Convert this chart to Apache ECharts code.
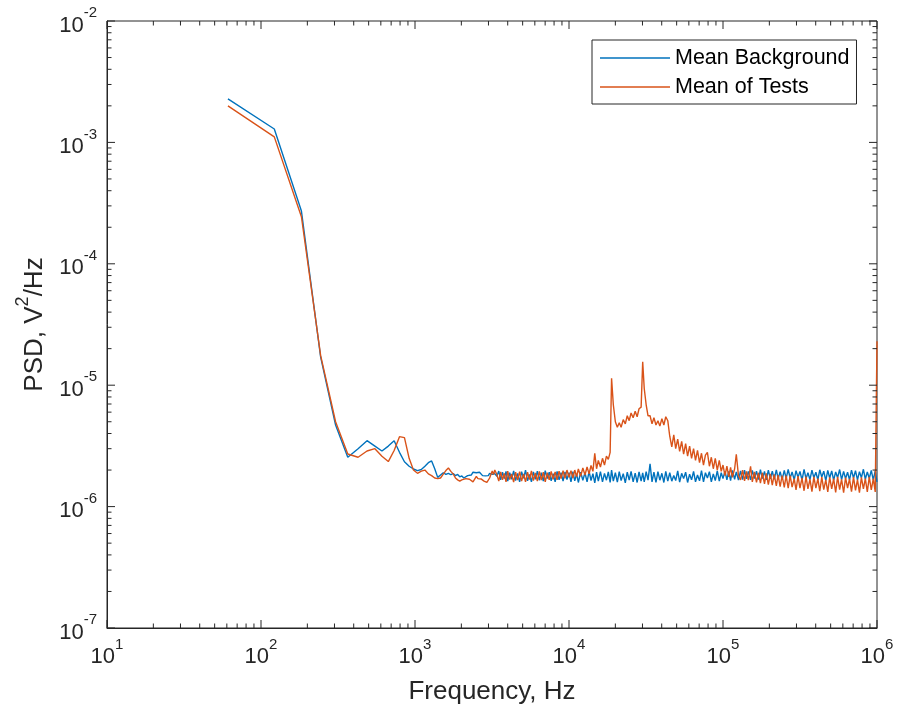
<!DOCTYPE html>
<html>
<head>
<meta charset="utf-8">
<title>PSD</title>
<script src="https://cdn.jsdelivr.net/npm/echarts@6/dist/echarts.min.js"></script>
<style>
  html, body { margin: 0; padding: 0; background: #fff; }
  #chart { width: 900px; height: 715px; }
</style>
</head>
<body>
<div id="chart"></div>
<script>
// frequency grid in Hz, shared by both curves
const freqHz = [
  61, 122, 183, 244, 305, 366, 427, 488, 549, 610, 671, 732, 793, 854, 916, 977, 1038, 1099,
  1160, 1221, 1282, 1343, 1404, 1465, 1526, 1587, 1648, 1709, 1770, 1831, 1892, 1953, 2014,
  2075, 2136, 2197, 2258, 2319, 2380, 2441, 2502, 2563, 2624, 2685, 2746, 2807, 2868, 2930,
  2991, 3052, 3113, 3174, 3235, 3296,
  3400, 3500, 3600, 3700, 3800, 3900, 4000, 4120, 4240, 4370, 4500, 4640, 4780, 4920, 5070,
  5220, 5380, 5540, 5700, 5870, 6050, 6230, 6420, 6610, 6810, 7010, 7220, 7440, 7660, 7890,
  8130, 8370, 8620, 8880, 9150, 9420, 9700,
  10000, 10300, 10600, 10900, 11200, 11500, 11900, 12300, 12700, 13100, 13500, 13900, 14300,
  14700, 15100, 15500, 16000, 16500, 17000, 17500, 18000, 18500, 18900, 19400, 20000, 20600,
  21200, 21800, 22500, 23200, 23900, 24600, 25300, 26100, 26900, 27700, 28500, 29400, 30100,
  30800, 31700, 32600, 33600, 34600, 35600, 36700, 37800, 38900, 40100, 41300, 42500, 43800,
  45100, 46500, 47900, 49300, 50800, 52300, 53900, 55500, 57200, 58900, 60700, 62500, 64400,
  66300, 68300, 70400, 72500, 74700, 76900, 79200, 81600, 84000, 86500, 89100, 91800, 94600, 97400,
  100000, 103000, 106000, 109000, 112000, 115000, 119000, 122000, 126000, 130000, 134000,
  138000, 142000, 146000, 151000, 155000, 160000, 165000, 170000, 175000, 180000, 186000,
  191000, 197000, 203000, 209000, 215000, 222000, 228000, 235000, 242000, 250000, 257000,
  265000, 273000, 281000, 290000, 298000, 307000, 316000, 326000, 336000, 346000, 356000,
  367000, 378000, 389000, 401000, 413000, 425000, 438000, 451000, 465000, 479000, 493000,
  508000, 523000, 539000, 555000, 572000, 589000, 607000, 625000, 644000, 663000, 683000,
  704000, 725000, 747000, 769000, 792000, 816000, 840000, 865000, 891000, 918000, 946000,
  974000, 1000000
];

// PSD in units of 1e-6 V^2/Hz
const meanBackground = [
  2280, 1290, 272, 17, 4.7, 2.55, 3.0, 3.49, 3.15, 2.87, 3.15, 3.49, 2.8, 2.34, 2.15, 2.04, 1.98, 2.02,
  2.15, 2.3, 2.38, 2.05, 1.74, 1.82, 1.9, 1.84, 1.88, 1.83, 1.87, 1.8, 1.84, 1.76, 1.79,
  1.72, 1.75, 1.8, 1.86, 1.82, 1.92, 1.85, 1.9, 1.84, 1.92, 1.86, 1.8, 1.75, 1.79, 1.74,
  1.8, 1.88, 1.95, 1.84, 1.78, 1.87,
  1.78, 1.96, 1.66, 1.92, 1.7, 1.95, 1.62, 1.9, 1.68, 1.97, 1.64, 1.88, 1.6, 1.94, 1.71,
  2.0, 1.63, 1.84, 1.6, 1.93, 1.68, 1.96, 1.65, 1.9, 1.62, 1.98, 1.7, 1.92, 1.63, 1.87,
  1.6, 1.95, 1.66, 1.9, 1.62, 1.93, 1.67,
  1.9, 1.6, 1.94, 1.63, 1.86, 1.58, 1.92, 1.65, 1.9, 1.6, 1.95, 1.64, 1.87,
  1.57, 1.92, 1.62, 1.94, 1.6, 1.88, 1.65, 1.93, 1.58, 2.0, 1.62, 1.9, 1.59,
  1.94, 1.64, 1.87, 1.57, 1.92, 1.65, 1.95, 1.6, 1.89, 1.58, 1.93, 1.62, 1.9,
  1.6, 1.94, 1.65, 2.25, 1.6, 1.92, 1.58, 1.94, 1.65, 1.88, 1.58, 1.95, 1.62,
  1.9, 1.62, 1.8, 1.64, 1.97, 1.59, 1.88, 1.7, 1.92, 1.58, 1.85, 1.66, 1.95, 1.6,
  1.82, 1.63, 1.98, 1.6, 1.9, 1.72, 1.94, 1.6, 1.86, 1.64, 1.97, 1.62, 1.9,
  1.7, 1.96, 1.66, 1.95, 1.64, 1.99, 1.68, 1.93, 1.65, 1.97, 1.67,
  2.0, 1.69, 1.95, 1.66, 1.99, 1.7, 1.96, 1.67, 2.02, 1.7, 1.95,
  1.66, 2.0, 1.69, 1.96, 1.68, 2.01, 1.7, 1.94, 1.67, 1.99, 1.71,
  2.02, 1.72, 1.93, 1.66, 1.98, 1.74, 1.95, 1.65, 2.03, 1.7, 1.9,
  1.67, 2.0, 1.73, 1.92, 1.66, 2.01, 1.75, 1.96, 1.64, 1.99, 1.72,
  1.97, 1.65, 1.93, 1.73, 2.02, 1.67, 1.95, 1.7, 1.92, 1.66, 2.0,
  1.72, 1.98, 1.66, 1.94, 1.73, 2.03, 1.68, 1.93, 1.71, 1.99, 1.66,
  1.97, 1.6
];

const meanOfTests = [
  2000, 1110, 244, 17.5, 5.0, 2.71, 2.55, 2.87, 3.0, 2.6, 2.35, 2.9, 3.77, 3.7, 2.5, 2.0, 1.88, 1.96,
  2.0, 1.86, 1.8, 1.72, 1.7, 1.72, 1.85, 1.98, 2.08, 1.95, 1.86, 1.72, 1.66, 1.62, 1.66,
  1.63, 1.7, 1.66, 1.68, 1.64, 1.6, 1.64, 1.77, 1.7, 1.76, 1.69, 1.74, 1.62, 1.66, 1.58,
  1.64, 1.72, 1.85, 1.96, 1.84, 2.0,
  1.84, 1.62, 1.93, 1.66, 1.88, 1.6, 1.96, 1.67, 1.86, 1.59, 1.92, 1.65, 1.94, 1.62, 1.86,
  1.6, 1.92, 1.67, 1.97, 1.64, 1.89, 1.62, 1.95, 1.65, 1.92, 1.6, 1.9, 1.66, 1.95, 1.68,
  1.93, 1.66, 1.96, 1.7, 1.98, 1.71, 2.0,
  1.74, 1.98, 1.72, 2.0, 1.76, 2.04, 1.78, 2.08, 1.82, 2.12, 1.86, 2.18, 1.95,
  2.75, 2.05, 2.4, 2.12, 2.5, 2.2, 2.6, 2.45, 2.8, 11.4, 6.9, 5.0, 4.5,
  4.9, 4.5, 5.2, 4.8, 5.6, 5.1, 5.9, 5.4, 6.1, 5.5, 6.4, 6.6, 15.6,
  9.4, 6.9, 5.6, 5.6, 4.8, 5.4, 4.7, 5.1, 4.6, 5.3, 4.7, 5.5, 5.1,
  3.8, 3.1, 3.9, 3.0, 3.6, 2.85, 3.45, 2.7, 3.3, 2.6, 3.15, 2.5, 3.0, 2.4,
  2.9, 2.3, 2.75, 2.2, 2.65, 2.8, 2.15, 2.55, 2.05, 2.5, 2.0, 2.4, 1.95,
  2.2, 1.8, 2.15, 1.76, 2.1, 1.74, 2.05, 2.7, 1.8, 1.66, 2.0,
  1.63, 1.95, 1.65, 2.15, 1.6, 1.93, 1.58, 1.9, 1.56, 1.9, 1.54,
  1.88, 1.52, 1.86, 1.5, 1.84, 1.48, 1.82, 1.46, 1.8, 1.44, 1.8,
  1.42, 1.8, 1.45, 1.7, 1.37, 1.78, 1.42, 1.72, 1.35, 1.77, 1.4,
  1.68, 1.33, 1.76, 1.42, 1.7, 1.34, 1.75, 1.38, 1.66, 1.32, 1.74,
  1.4, 1.7, 1.31, 1.76, 1.38, 1.68, 1.3, 1.73, 1.42, 1.69, 1.33,
  1.75, 1.36, 1.67, 1.3, 1.74, 1.4, 1.7, 1.32, 1.76, 1.37, 1.7,
  1.32, 23
];

const seriesNames = ['Mean Background', 'Mean of Tests'];
const seriesColors = ['#0072BD', '#D95319'];
const xDecades = [10, 100, 1000, 10000, 100000, 1000000];
const yDecades = [1e-7, 1e-6, 1e-5, 1e-4, 1e-3, 1e-2];
const minorSteps = [2, 3, 4, 5, 6, 7, 8, 9];

const FONT = "'Liberation Sans', Arial, Helvetica, sans-serif";
const AX = '#262626';
const X_MIN = 10, X_MAX = 1e6, Y_MIN = 1e-7, Y_MAX = 1e-2;
const MAJOR_LEN = 8, MINOR_LEN = 4.5;

function toPairs(vals) {
  return freqHz.map((f, i) => [f, vals[i] * 1e-6]);
}

function tickList(decades) {
  const out = [];
  decades.forEach((d, i) => {
    out.push([d, MAJOR_LEN]);
    if (i < decades.length - 1) minorSteps.forEach(k => out.push([d * k, MINOR_LEN]));
  });
  return out;
}

const powLabel = v => '{b|10}{s|' + Math.round(Math.log10(v)) + '}';
const powRich = {
  b: { fontSize: 22, lineHeight: 31, verticalAlign: 'bottom', fontFamily: FONT, color: AX },
  s: { fontSize: 15, lineHeight: 15, verticalAlign: 'top', fontFamily: FONT, color: AX }
};

const chart = echarts.init(document.getElementById('chart'), null, { renderer: 'canvas' });

chart.setOption({
  animation: false,
  backgroundColor: '#fff',
  grid: { left: 107, right: 23, top: 21, bottom: 87, show: true, borderColor: AX, borderWidth: 1 },
  legend: {
    data: seriesNames.map((n, i) => ({ name: n, icon: 'rect', itemStyle: { color: seriesColors[i] } })),
    orient: 'vertical',
    left: 592, top: 40,
    itemWidth: 70, itemHeight: 1.4, itemGap: 7,
    padding: [7, 7, 6, 8],
    borderColor: AX, borderWidth: 1, borderRadius: 0,
    backgroundColor: '#fff',
    textStyle: { fontSize: 21.5, lineHeight: 22, color: '#000', fontFamily: FONT }
  },
  xAxis: {
    type: 'log', logBase: 10, min: X_MIN, max: X_MAX,
    axisLine: { show: true, lineStyle: { color: AX } },
    axisTick: { show: false },
    splitLine: { show: false },
    axisLabel: { formatter: powLabel, rich: powRich, margin: 9, showMinLabel: true, showMaxLabel: true },
    name: 'Frequency, Hz', nameLocation: 'middle', nameGap: 51,
    nameTextStyle: { fontSize: 26, color: AX, fontFamily: FONT }
  },
  yAxis: {
    type: 'log', logBase: 10, min: Y_MIN, max: Y_MAX,
    axisLine: { show: true, lineStyle: { color: AX } },
    axisTick: { show: false },
    splitLine: { show: false },
    axisLabel: { formatter: powLabel, rich: powRich, margin: 10, showMinLabel: true, showMaxLabel: true },
    name: '{a|PSD, V}{s|2}{a|/Hz}', nameLocation: 'middle', nameGap: 57, nameRotate: 90,
    nameTextStyle: {
      rich: {
        a: { fontSize: 26, lineHeight: 34, verticalAlign: 'bottom', color: AX, fontFamily: FONT },
        s: { fontSize: 18, lineHeight: 18, verticalAlign: 'top', color: AX, fontFamily: FONT }
      }
    }
  },
  series: [
    {
      name: seriesNames[0], type: 'line', data: toPairs(meanBackground),
      symbol: 'none', showSymbol: false, z: 2,
      lineStyle: { width: 1.4, color: seriesColors[0] }, itemStyle: { color: seriesColors[0] }
    },
    {
      name: seriesNames[1], type: 'line', data: toPairs(meanOfTests),
      symbol: 'none', showSymbol: false, z: 3,
      lineStyle: { width: 1.4, color: seriesColors[1] }, itemStyle: { color: seriesColors[1] }
    },
    {
      // tick marks on bottom and top edges, pointing inward
      type: 'custom', silent: true, clip: false, z: 5,
      data: tickList(xDecades).map(t => [t[0], Y_MIN, t[1]]),
      encode: { x: 0, y: 1 },
      renderItem: (params, api) => {
        const v = api.value(0), len = api.value(2);
        const b = api.coord([v, Y_MIN]), t = api.coord([v, Y_MAX]);
        const st = { stroke: AX, lineWidth: 1 };
        return { type: 'group', children: [
          { type: 'line', shape: { x1: b[0], y1: b[1], x2: b[0], y2: b[1] - len }, style: st },
          { type: 'line', shape: { x1: t[0], y1: t[1], x2: t[0], y2: t[1] + len }, style: st }
        ] };
      }
    },
    {
      // tick marks on left and right edges, pointing inward
      type: 'custom', silent: true, clip: false, z: 5,
      data: tickList(yDecades).map(t => [X_MIN, t[0], t[1]]),
      encode: { x: 0, y: 1 },
      renderItem: (params, api) => {
        const v = api.value(1), len = api.value(2);
        const l = api.coord([X_MIN, v]), r = api.coord([X_MAX, v]);
        const st = { stroke: AX, lineWidth: 1 };
        return { type: 'group', children: [
          { type: 'line', shape: { x1: l[0], y1: l[1], x2: l[0] + len, y2: l[1] }, style: st },
          { type: 'line', shape: { x1: r[0], y1: r[1], x2: r[0] - len, y2: r[1] }, style: st }
        ] };
      }
    }
  ]
});
</script>
</body>
</html>
